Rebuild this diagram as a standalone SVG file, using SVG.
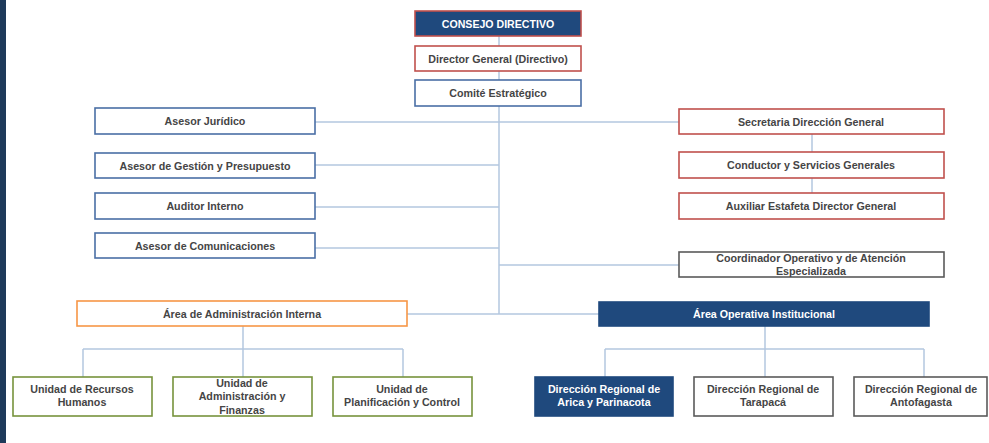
<svg xmlns="http://www.w3.org/2000/svg" width="989" height="443" viewBox="0 0 989 443">
<style>
.b{stroke-width:1.6;fill:#fff}
.blue{stroke:#4a6fa5}
.red{stroke:#c0504d}
.green{stroke:#77933c}
.orange{stroke:#f79646}
.gray{stroke:#5a5a5a}
.dark{fill:#1f497d;stroke:#1f497d}
.t{font-family:"Liberation Sans",Arial,sans-serif;font-size:10.7px;font-weight:bold;fill:#454545;text-anchor:middle}
.w{fill:#fff}
.c{stroke:#b4c7e0;stroke-width:1.5;fill:none}
</style>
<rect x="0" y="0" width="989" height="443" fill="#fff"/>
<rect x="0" y="0" width="6" height="443" fill="#1e3a5a"/>
<g id="connectors">
<path class="c" d="M499 36V314M315 122H679M315 165H499M315 207H499M315 248H499M499 265H679M407 314H599M812 134V152M812 178V193"/>
<path class="c" d="M243 326V349M83 349H403M83 349V377M243 349V377M403 349V377"/>
<path class="c" d="M765 326V349M605 349H924M605 349V377M765 349V377M924 349V377"/>
</g>
<g id="consejo"><rect class="b dark" x="415" y="11" width="166" height="25" style="stroke:#c0504d"/><text class="t w" x="498" y="27.5" style="font-size:10.6px">CONSEJO DIRECTIVO</text></g>
<g id="director"><rect class="b red" x="415" y="46" width="166" height="25"/><text class="t" x="498" y="62.5">Director General (Directivo)</text></g>
<g id="comite"><rect class="b blue" x="415" y="80" width="166" height="26"/><text class="t" x="498" y="96.5">Comité Estratégico</text></g>
<g id="juridico"><rect class="b blue" x="95" y="108" width="220" height="26"/><text class="t" x="205" y="124.5">Asesor Jurídico</text></g>
<g id="gestion"><rect class="b blue" x="95" y="153" width="220" height="25"/><text class="t" x="205" y="169.5">Asesor de Gestión y Presupuesto</text></g>
<g id="auditor"><rect class="b blue" x="95" y="193" width="220" height="26"/><text class="t" x="205" y="210">Auditor Interno</text></g>
<g id="comunicaciones"><rect class="b blue" x="95" y="233" width="220" height="25"/><text class="t" x="205" y="249.5">Asesor de Comunicaciones</text></g>
<g id="secretaria"><rect class="b red" x="679" y="109" width="265" height="25"/><text class="t" x="811" y="125.5">Secretaria Dirección General</text></g>
<g id="conductor"><rect class="b red" x="679" y="152" width="265" height="26"/><text class="t" x="811" y="168.5">Conductor y Servicios Generales</text></g>
<g id="auxiliar"><rect class="b red" x="679" y="193" width="265" height="26"/><text class="t" x="811" y="210">Auxiliar Estafeta Director General</text></g>
<g id="coordinador"><rect class="b gray" x="679" y="252" width="265" height="25"/><text class="t" x="811" y="262">Coordinador Operativo y de Atención</text><text class="t" x="811" y="274.5">Especializada</text></g>
<g id="admin"><rect class="b orange" x="77" y="301" width="330" height="25"/><text class="t" x="242" y="317.5">Área de Administración Interna</text></g>
<g id="operativa"><rect class="b dark" x="599" y="302" width="330" height="24"/><text class="t w" x="764" y="317.5">Área Operativa Institucional</text></g>
<g id="rrhh"><rect class="b green" x="13" y="377" width="139" height="39"/><text class="t" x="82" y="393">Unidad de Recursos</text><text class="t" x="82" y="406">Humanos</text></g>
<g id="finanzas"><rect class="b green" x="173" y="377" width="139" height="39"/><text class="t" x="242" y="386.5">Unidad de</text><text class="t" x="242" y="400">Administración y</text><text class="t" x="242" y="413.5">Finanzas</text></g>
<g id="planificacion"><rect class="b green" x="333" y="377" width="139" height="39"/><text class="t" x="402" y="393">Unidad de</text><text class="t" x="402" y="406">Planificación y Control</text></g>
<g id="arica"><rect class="b dark" x="535" y="377" width="138" height="39"/><text class="t w" x="604" y="393">Dirección Regional de</text><text class="t w" x="604" y="406">Arica y Parinacota</text></g>
<g id="tarapaca"><rect class="b gray" x="694" y="377" width="139" height="39"/><text class="t" x="763" y="393">Dirección Regional de</text><text class="t" x="763" y="406">Tarapacá</text></g>
<g id="antofagasta"><rect class="b gray" x="854" y="377" width="133" height="39"/><text class="t" x="921" y="393">Dirección Regional de</text><text class="t" x="921" y="406">Antofagasta</text></g>
</svg>
